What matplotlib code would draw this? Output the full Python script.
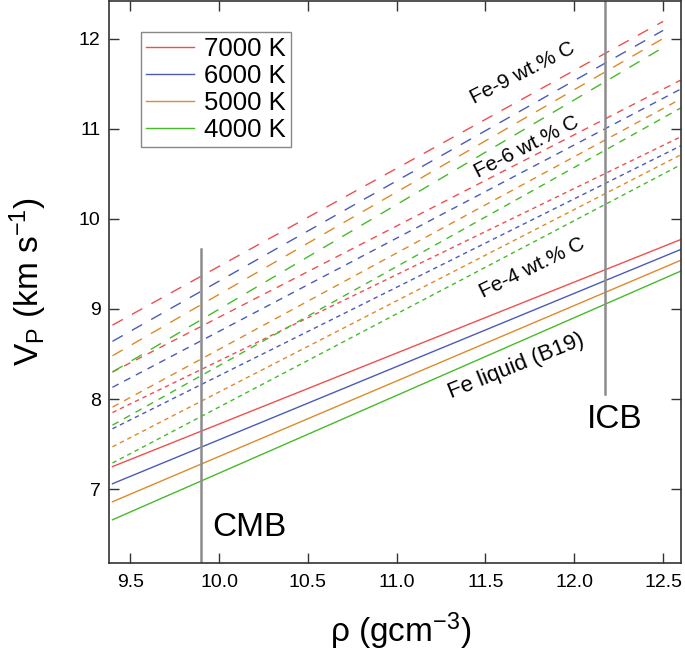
import matplotlib
matplotlib.use('Agg')
import matplotlib.pyplot as plt
import matplotlib.ticker as mticker

plt.rcParams['font.family'] = ['Liberation Sans', 'DejaVu Sans']
plt.rcParams['mathtext.default'] = 'regular'
plt.rcParams['lines.scale_dashes'] = False

# temperatures and colours
temps  = ['7000 K', '6000 K', '5000 K', '4000 K']
colors = ['#ee4f4f', '#4c5ab8', '#de8a2a', '#45bb2a']

# density range of the curves (g/cm3)
rho_long  = [9.4, 12.6]
rho_short = [9.4, 12.5]

# Vp (km/s) at the ends of each curve, ordered 7000, 6000, 5000, 4000 K
vp_fe  = [[7.25, 9.77], [7.06, 9.66], [6.86, 9.54], [6.66, 9.42]]
vp_c4  = [[7.85, 10.91], [7.67, 10.81], [7.47, 10.71], [7.29, 10.60]]
vp_c6  = [[8.30, 11.54], [8.13, 11.44], [7.91, 11.33], [7.71, 11.23]]
vp_c9  = [[8.82, 12.19], [8.64, 12.09], [8.48, 12.00], [8.30, 11.90]]

# boundaries
rho_cmb, vp_cmb = 9.90, [6.20, 9.67]
rho_icb, vp_icb = 12.17, [8.06, 12.42]


fig = plt.figure(figsize=[6.85, 6.57], dpi=100)
ax = fig.add_axes([0.159, 0.143, 0.835, 0.856])

handles = []
for i in range(4):
    h, = ax.plot(rho_long, vp_fe[i], color=colors[i], lw=1.0)
    handles.append(h)
    l4, = ax.plot(rho_long, vp_c4[i], color=colors[i], lw=1.0)
    l4.set_dashes([3.2, 2.8])
    l6, = ax.plot(rho_long, vp_c6[i], color=colors[i], lw=1.0)
    l6.set_dashes([5.0, 4.5])
    l9, = ax.plot(rho_short, vp_c9[i], color=colors[i], lw=1.0)
    l9.set_dashes([8.5, 7.5])

ax.plot([rho_cmb, rho_cmb], vp_cmb, color='#8c8c8c', lw=1.8)
ax.plot([rho_icb, rho_icb], vp_icb, color='#8c8c8c', lw=1.8)

ax.text(10.17, 6.57, 'CMB', fontsize=24, ha='center', va='center')
ax.text(12.225, 7.77, 'ICB', fontsize=24, ha='center', va='center')

ax.text(11.71, 11.62, 'Fe-9 wt.% C', fontsize=15, rotation=27, ha='center', va='center', rotation_mode='anchor')
ax.text(11.73, 10.80, 'Fe-6 wt.% C', fontsize=15, rotation=27, ha='center', va='center', rotation_mode='anchor')
ax.text(11.76, 9.45, 'Fe-4 wt.% C', fontsize=15, rotation=26, ha='center', va='center', rotation_mode='anchor')
ax.text(11.67, 8.37, 'Fe liquid (B19)', fontsize=16, rotation=22, ha='center', va='center', rotation_mode='anchor')

ax.set_xlim(9.38, 12.6)
ax.set_ylim(6.18, 12.42)

ax.xaxis.set_major_locator(mticker.MultipleLocator(0.5))
ax.xaxis.set_major_formatter(mticker.FormatStrFormatter('%.1f'))
ax.yaxis.set_major_locator(mticker.MultipleLocator(1))

ax.tick_params(direction='in', top=True, right=True, length=7, width=1.0,
               color='#333333', labelsize=14)
ax.tick_params(axis='x', pad=8)
ax.tick_params(axis='y', pad=6)
for s in ax.spines.values():
    s.set_linewidth(1.2)
    s.set_color('#333333')

ax.set_xlabel('ρ (gcm$^{-3}$)', fontsize=24)
ax.set_ylabel('V$_{P}$ (km s$^{-1}$)', fontsize=24)
ax.xaxis.set_label_coords(0.51, -0.085)
ax.yaxis.set_label_coords(-0.105, 0.5)

leg = ax.legend(handles, temps, loc='upper left', bbox_to_anchor=(0.056, 0.945),
                borderaxespad=0, fontsize=18.5, handlelength=1.85, handletextpad=0.4,
                labelspacing=0.12, borderpad=0.2, fancybox=False, framealpha=1)
leg.get_frame().set_edgecolor('#888888')
leg.get_frame().set_linewidth(1.0)

fig.savefig('out.png', dpi=100)
